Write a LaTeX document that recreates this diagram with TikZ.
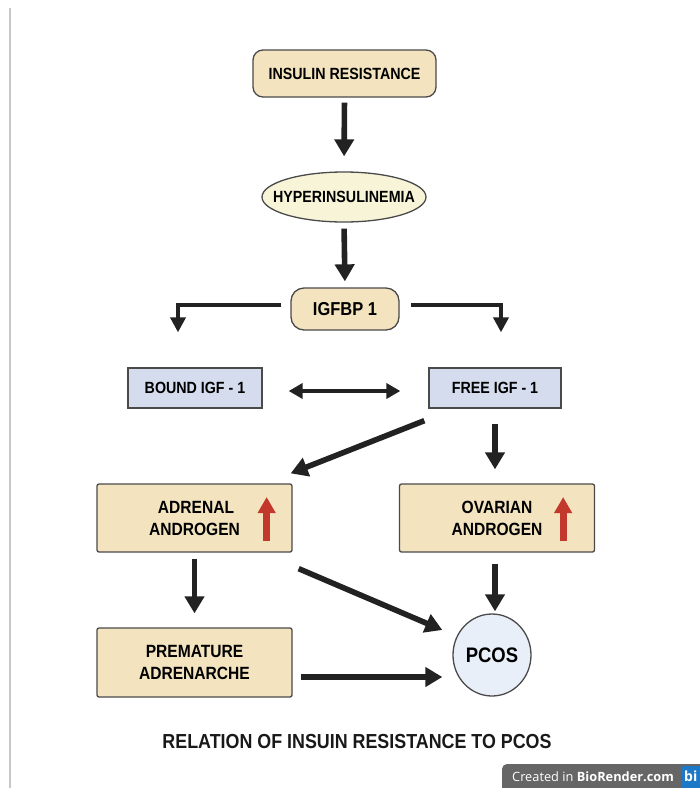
\documentclass[tikz,border=0pt]{standalone}
\usepackage{fontspec}
\setmainfont[FakeStretch=0.88]{Liberation Sans}
\newfontfamily\badgefont{Open Sans}
\usetikzlibrary{arrows.meta,shapes.geometric}
\definecolor{tanfill}{HTML}{F3E4BF}
\definecolor{ellfill}{HTML}{F8F4D8}
\definecolor{bluefill}{HTML}{D5DCEE}
\definecolor{pcosfill}{HTML}{E9EFF9}
\definecolor{boxline}{HTML}{4A4A4A}
\definecolor{arrcol}{HTML}{222222}
\definecolor{redarr}{HTML}{C3382C}
\definecolor{badgegray}{HTML}{666666}
\definecolor{badgeblue}{HTML}{1E78C8}
\begin{document}
\begin{tikzpicture}[x=1pt,y=-1pt,
  boxbase/.style={draw=boxline, line width=1.3pt, align=center, inner sep=0pt, text=black},
  tanround/.style={boxbase, fill=tanfill, rounded corners=10pt},
  tanrect/.style={boxbase, fill=tanfill, rounded corners=2pt, minimum width=195pt, minimum height=68pt},
  bluerect/.style={boxbase, fill=bluefill, minimum height=40pt},
  bigarr/.style={draw=arrcol, line width=5.6pt, -{Triangle[length=17pt,width=19pt]}},
  elbarr/.style={draw=arrcol, line width=3.8pt, -{Triangle[length=15pt,width=15pt]}},
  dblarr/.style={draw=arrcol, line width=3.8pt, {Triangle[length=14pt,width=15pt]}-{Triangle[length=14pt,width=15pt]}},
  redup/.style={draw=redarr, line width=7pt, -{Triangle[length=16pt,width=17pt]}},
  f16/.style={font=\fontsize{16.2}{20}\selectfont\bfseries},
  f17/.style={font=\fontsize{17.7}{22}\selectfont\bfseries}
]
\useasboundingbox (0,0) rectangle (700,788);
\fill[white] (0,0) rectangle (700,788);
\draw[black!22, line width=1.3pt] (10,8) -- (10,788);

% nodes
\node[tanround, f16, minimum width=183pt, minimum height=47pt] (ir) at (344.5,73.5) {INSULIN RESISTANCE};
\node[boxbase, fill=ellfill, ellipse, minimum width=164pt, minimum height=50pt,
      label={[f16, inner sep=0pt]center:HYPERINSULINEMIA}] (hyper) at (344,197) {};
\node[tanround, font=\fontsize{18.7}{22}\selectfont\bfseries, minimum width=108pt, minimum height=42pt, rounded corners=13pt] (igfbp) at (345,309) {IGFBP 1};
\node[bluerect, f16, minimum width=134pt] (bound) at (195,388) {BOUND IGF - 1};
\node[bluerect, f16, minimum width=132pt] (free) at (495,388) {FREE IGF - 1};
\node[tanrect, f17] (adrenal) at (194.5,518) {\hspace*{3pt}ADRENAL\\ANDROGEN};
\node[tanrect, f17] (ovarian) at (497,518) {OVARIAN\\ANDROGEN};
\node[tanrect, f17, minimum height=69pt] (prem) at (194.5,662.5) {PREMATURE\\ADRENARCHE};
\node[boxbase, fill=pcosfill, ellipse, minimum width=78pt, minimum height=82pt,
      label={[font=\fontsize{21}{24}\selectfont\bfseries, inner sep=0pt]center:PCOS}] (pcos) at (492,655) {};

% red up arrows
\draw[redup] ([shift={(-26pt,-23pt)}]adrenal.east) -- ([shift={(-26pt,21pt)}]adrenal.east);
\draw[redup] ([shift={(-32pt,-23pt)}]ovarian.east) -- ([shift={(-32pt,21pt)}]ovarian.east);

% connectors
\draw[bigarr, shorten <=5pt, shorten >=15pt] (ir.south) -- (hyper.north);
\draw[bigarr, shorten <=6pt, shorten >=6pt] (hyper.south) -- (igfbp.north);
\draw[elbarr] ([shift={(-9pt,4pt)}]igfbp.west) -| ([shift={(-17pt,35pt)}]bound.north);
\draw[elbarr] ([shift={(11pt,4pt)}]igfbp.east) -| ([shift={(6pt,35pt)}]free.north);
\draw[dblarr] ([shift={(26pt,-3pt)}]bound.east) -- ([shift={(-28pt,-3pt)}]free.west);
\draw[bigarr] ([shift={(-4pt,-12pt)}]free.south west) -- ([shift={(-2pt,10pt)}]adrenal.north east);
\draw[bigarr, shorten <=15pt, shorten >=14pt] (free.south) -- ([xshift=-2pt]ovarian.north);
\draw[bigarr, shorten <=6pt, shorten >=14pt] (adrenal.south) -- (prem.north);
\draw[bigarr] ([shift={(6pt,-16pt)}]adrenal.south east) -- ([shift={(-10pt,25pt)}]pcos.west);
\draw[bigarr, shorten <=11pt, shorten >=2pt] ([xshift=-2pt]ovarian.south) -- ([xshift=3pt]pcos.north);
\draw[bigarr] ([shift={(8pt,-14.5pt)}]prem.east) -- ([shift={(-10pt,-22pt)}]pcos.west);

% caption
\node[font=\fontsize{20.3}{23}\selectfont\bfseries, text=black!90] (cap) at (357,742) {RELATION OF INSUIN RESISTANCE TO PCOS};

% badge
\fill[badgegray, rounded corners=5pt] (502,764) rectangle (720,800);
\fill[badgeblue] (681,766) rectangle (700,788);
\node[anchor=west, text=white, font=\badgefont\fontsize{12.8}{16}\selectfont, inner sep=0pt] (badge) at (512,777) {Created in \textbf{BioRender.com}};
\node[anchor=west, text=white, font=\badgefont\fontsize{14}{16}\selectfont\bfseries, inner sep=0pt] (bi) at (684,776) {bi};
\end{tikzpicture}
\end{document}
